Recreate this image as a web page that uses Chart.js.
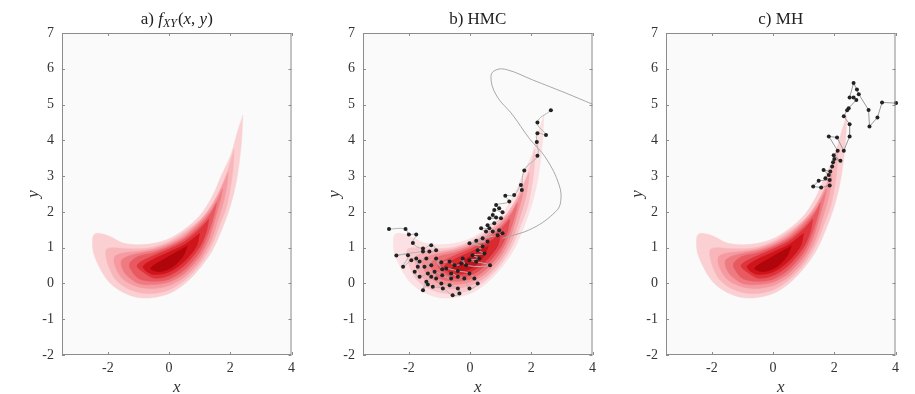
<!DOCTYPE html>
<html>
<head>
<meta charset="utf-8">
<script src="https://cdn.jsdelivr.net/npm/chart.js@4.4.0/dist/chart.umd.min.js"></script>
<style>
  html, body { margin: 0; padding: 0; background: #fff; }
  #wrap { position: relative; width: 915px; height: 394px; }
  canvas { position: absolute; top: 0; }
</style>
</head>
<body>
<div id="wrap">
  <canvas id="panelA" width="300" height="394" style="left:0px"></canvas>
  <canvas id="panelB" width="300" height="394" style="left:301px"></canvas>
  <canvas id="panelC" width="300" height="394" style="left:604px"></canvas>
</div>
<script>
const xTicks = [-2, 0, 2, 4];
const yTicks = [-2, -1, 0, 1, 2, 3, 4, 5, 6, 7];

// density contours, outermost first (tip -> upper edge -> left end -> lower edge)
const level1 = [[2.41,4.70],[2.22,4.20],[2.02,3.60],[1.70,3.00],[1.45,2.50],[1.10,2.00],[0.75,1.68],[0.40,1.45],[0.0,1.25],[-0.5,1.12],[-1.0,1.08],[-1.5,1.13],[-1.95,1.32],[-2.30,1.40],[-2.45,1.37],
  [-2.50,1.25],[-2.48,0.89],[-2.31,0.51],[-2.04,0.12],[-1.72,-0.14],[-1.2,-0.36],[-0.74,-0.41],[-0.30,-0.36],[0.13,-0.23],[0.55,0.02],[1.0,0.42],[1.4,0.9],[1.72,1.5],[1.96,2.05],[2.15,2.65],[2.28,3.30],[2.37,4.0]];
const level2 = [[2.12,3.75],[1.95,3.25],[1.75,2.80],[1.50,2.35],[1.20,1.95],[0.85,1.66],[0.45,1.41],[0.0,1.17],[-0.5,1.02],[-1.0,0.97],[-1.5,0.98],[-1.85,1.0],[-2.04,0.96],
  [-2.07,0.80],[-1.98,0.48],[-1.78,0.14],[-1.45,-0.10],[-1.0,-0.25],[-0.5,-0.28],[0.0,-0.18],[0.5,0.08],[1.0,0.52],[1.4,1.08],[1.65,1.62],[1.88,2.15],[2.03,2.80],[2.10,3.30]];
const level3 = [[1.93,3.10],[1.75,2.75],[1.55,2.40],[1.30,2.05],[0.95,1.70],[0.5,1.37],[0.0,1.12],[-0.5,0.97],[-1.0,0.90],[-1.5,0.85],[-1.77,0.76],
  [-1.80,0.60],[-1.68,0.32],[-1.45,0.08],[-1.0,-0.10],[-0.5,-0.14],[0.0,-0.06],[0.5,0.18],[1.0,0.63],[1.35,1.15],[1.58,1.72],[1.80,2.35],[1.90,2.80]];
const level4 = [[1.75,2.65],[1.55,2.30],[1.35,2.02],[1.0,1.68],[0.5,1.30],[0.0,1.07],[-0.5,0.92],[-1.0,0.84],[-1.35,0.76],[-1.55,0.65],
  [-1.56,0.50],[-1.42,0.26],[-1.0,0.0],[-0.5,-0.03],[0.0,0.04],[0.5,0.28],[1.0,0.75],[1.3,1.25],[1.50,1.80],[1.68,2.35]];
const level5 = [[1.55,2.25],[1.35,1.95],[1.0,1.60],[0.5,1.24],[0.0,1.02],[-0.5,0.86],[-1.0,0.76],[-1.28,0.58],
  [-1.28,0.44],[-1.0,0.14],[-0.5,0.06],[0.0,0.12],[0.5,0.38],[1.0,0.88],[1.28,1.40],[1.48,1.95]];
const level6 = [[1.30,1.80],[1.0,1.52],[0.5,1.17],[0.0,0.96],[-0.5,0.78],[-0.9,0.62],[-1.05,0.50],
  [-0.95,0.38],[-0.5,0.15],[0.0,0.22],[0.5,0.50],[1.0,1.02],[1.22,1.45]];
const level7 = [[1.0,1.40],[0.5,1.08],[0.0,0.88],[-0.5,0.68],[-0.85,0.48],
  [-0.75,0.35],[-0.5,0.25],[0.0,0.32],[0.5,0.62],[0.9,1.05]];
const level8 = [[0.6,1.05],[0.2,0.86],[-0.2,0.66],[-0.55,0.48],[-0.6,0.40],[-0.3,0.33],[0.1,0.45],[0.45,0.75]];
const levels = [level1, level2, level3, level4, level5, level6, level7, level8];
const levelColors = ['#fbd0d3', '#f8b6ba', '#f49aa0', '#ef7b82', '#e85960', '#df343c', '#cf141b', '#b0060b'];

// HMC samples in chain order
const hmcSamples = [[2.64,4.84],[2.20,4.50],[2.48,4.15],[2.20,4.20],[2.18,3.95],[2.20,3.57],[1.77,3.16],[1.69,2.61],[1.66,2.75],[1.44,2.47],
  [1.15,2.45],[1.28,2.29],[0.85,2.19],[0.95,2.10],[1.06,1.99],[0.79,2.05],[0.74,1.91],[0.85,1.84],[0.63,1.82],[1.01,1.82],
  [0.79,1.68],[0.57,1.63],[0.63,1.54],[0.36,1.54],[0.52,1.45],[0.74,1.45],[0.95,1.49],[1.06,1.40],[0.90,1.35],[0.41,1.26],
  [0.20,1.19],[0.57,1.17],[-0.02,1.12],[0.41,1.03],[0.25,0.93],[0.47,0.84],[0.08,0.79],[0.30,0.70],[-0.02,0.65],[0.20,0.61],
  [0.65,0.51],[-0.13,0.51],[-0.24,0.70],[-0.29,0.56],[-0.51,0.51],[-0.67,0.61],[-0.94,0.59],[-1.11,0.70],[-0.91,0.40],[-0.78,0.42],
  [-0.40,0.35],[-0.02,0.28],[0.14,0.14],[0.25,0.00],[-0.02,-0.14],[-0.19,0.14],[-0.40,0.19],[-0.62,0.28],[-0.62,0.14],[-0.91,0.23],
  [-1.16,0.33],[-1.11,0.14],[-0.94,0.00],[-0.67,-0.05],[-0.40,-0.14],[-0.35,-0.28],[-0.57,-0.33],[-0.89,-0.14],[-1.22,-0.09],[-1.38,-0.03],
  [-1.54,-0.19],[-1.43,0.05],[-1.27,0.19],[-1.38,0.28],[-1.65,0.19],[-1.81,0.33],[-1.49,0.47],[-1.27,0.51],[-1.43,0.70],[-1.65,0.61],
  [-1.71,0.47],[-1.76,0.70],[-1.92,0.65],[-2.19,0.47],[-2.03,0.79],[-2.41,0.78],[-1.54,0.89],[-1.33,0.89],[-1.11,0.93],[-1.27,1.07],
  [-1.54,0.98],[-1.87,1.13],[-1.76,1.37],[-2.00,1.37],[-2.11,1.52],[-2.65,1.52]];
// long leapfrog excursion that leaves the frame
const hmcExcursion = [[1.06,1.26],[2.04,1.54],[2.80,2.01],[2.96,2.29],[2.91,2.75],[2.48,3.50],[1.93,4.06],[1.39,4.71],[0.85,5.27],
  [0.68,5.79],[0.85,5.97],[1.22,5.97],[2.04,5.69],[3.13,5.32],[4.0,5.01],[4.4,4.87]];

// MH chain, starting at the right edge
const mhSamples = [[4.02,5.04],[3.56,5.06],[3.41,4.64],[3.15,4.39],[3.12,4.85],[2.80,5.29],[2.74,5.42],[2.63,5.60],[2.50,5.20],[2.63,5.20],
  [2.72,5.13],[2.47,4.90],[2.42,4.84],[2.31,4.67],[2.50,4.45],[2.50,4.11],[2.31,3.71],[2.09,4.08],[1.82,4.11],[2.11,3.71],
  [1.98,3.58],[2.20,3.43],[2.00,3.48],[1.96,3.39],[1.93,3.27],[1.87,3.13],[1.65,3.17],[1.82,3.03],[1.71,2.94],[1.85,2.89],
  [1.49,2.87],[1.31,2.71],[1.57,2.68],[1.85,2.74]];

const titleA = [['a) ', 'n'], ['f', 'i'], ['XY', 's'], ['(', 'n'], ['x', 'i'], [', ', 'n'], ['y', 'i'], [')', 'n']];
const titleB = [['b) HMC', 'n']];
const titleC = [['c) MH', 'n']];

const serif = '"Liberation Serif", "DejaVu Serif", serif';

function pts(list) {
    return list.map(p => ({ x: p[0], y: p[1] }));
}

function hexAlpha(hex, a) {
    const n = parseInt(hex.slice(1), 16);
    return 'rgba(' + (n >> 16) + ',' + ((n >> 8) & 255) + ',' + (n & 255) + ',' + a + ')';
}

function densitySets(alpha) {
    return levels.map((lv, i) => ({
        type: 'line',
        data: pts(lv.concat([lv[0]])),
        fill: 'shape',
        backgroundColor: hexAlpha(levelColors[i], alpha),
        borderColor: hexAlpha(levelColors[i], alpha),
        borderWidth: 0.5,
        pointRadius: 0,
        tension: 0.3,
        order: 30 - i
    }));
}

const framePlugin = {
    id: 'frame',
    beforeDraw(chart) {
        const { ctx, chartArea: a } = chart;
        ctx.save();
        ctx.fillStyle = '#fafafa';
        ctx.fillRect(a.left, a.top, a.width, a.height);
        ctx.restore();
    },
    afterDatasetsDraw(chart) {
        const { ctx, chartArea: a, scales } = chart;
        ctx.save();
        ctx.strokeStyle = '#8c8c8c';
        ctx.lineWidth = 1;
        ctx.strokeRect(a.left + 0.5, a.top + 0.5, a.width - 1, a.height - 1);
        ctx.beginPath();
        xTicks.forEach(v => {
            const px = Math.round(scales.x.getPixelForValue(v)) + 0.5;
            ctx.moveTo(px, a.bottom); ctx.lineTo(px, a.bottom - 3);
            ctx.moveTo(px, a.top); ctx.lineTo(px, a.top + 3);
        });
        yTicks.forEach(v => {
            const py = Math.round(scales.y.getPixelForValue(v)) + 0.5;
            ctx.moveTo(a.left, py); ctx.lineTo(a.left + 3, py);
            ctx.moveTo(a.right, py); ctx.lineTo(a.right - 3, py);
        });
        ctx.stroke();
        ctx.restore();
    }
};

const titlePlugin = {
    id: 'panelTitle',
    afterDraw(chart, args, opts) {
        const ctx = chart.ctx;
        const fontOf = kind => kind === 's' ? 'italic 12px ' + serif : (kind === 'i' ? 'italic 17px ' + serif : '17px ' + serif);
        ctx.save();
        ctx.fillStyle = '#222';
        ctx.textBaseline = 'alphabetic';
        let total = 0;
        const widths = opts.parts.map(p => {
            ctx.font = fontOf(p[1]);
            const w = ctx.measureText(p[0]).width + (p[1] === 's' ? 1 : 0);
            total += w;
            return w;
        });
        let x = (chart.chartArea.left + chart.chartArea.right) / 2 - total / 2;
        opts.parts.forEach((p, i) => {
            ctx.font = fontOf(p[1]);
            ctx.fillText(p[0], x, 24 + (p[1] === 's' ? 3 : 0));
            x += widths[i];
        });
        ctx.restore();
    }
};

function makePanel(id, title, extraSets, densityAlpha) {
    const tickFont = { family: serif, size: 14 };
    new Chart(document.getElementById(id), {
        type: 'line',
        data: { datasets: extraSets.concat(densitySets(densityAlpha)) },
        options: {
            responsive: false,
            animation: false,
            layout: { padding: { top: 33, right: 8, left: 0, bottom: 0 } },
            plugins: {
                legend: { display: false },
                tooltip: { enabled: false },
                panelTitle: { parts: title }
            },
            scales: {
                x: {
                    type: 'linear', min: -3.5, max: 4,
                    afterBuildTicks: s => { s.ticks = xTicks.map(v => ({ value: v })); },
                    afterFit: s => { s.height = 39; },
                    grid: { display: false, drawTicks: false }, border: { display: false },
                    ticks: { padding: 5, color: '#333', font: tickFont, maxRotation: 0 },
                    title: { display: true, text: 'x', color: '#333', padding: { top: 0, bottom: -2 },
                        font: { family: serif, size: 17, style: 'italic', lineHeight: 1 } }
                },
                y: {
                    type: 'linear', min: -2, max: 7,
                    afterBuildTicks: s => { s.ticks = yTicks.map(v => ({ value: v })); },
                    afterFit: s => { s.width = 62; },
                    grid: { display: false, drawTicks: false }, border: { display: false },
                    ticks: { padding: 8, color: '#333', font: tickFont, autoSkip: false },
                    title: { display: true, text: 'y', color: '#333', padding: { top: 25, bottom: 0 },
                        font: { family: serif, size: 17, style: 'italic', lineHeight: 1 } }
                }
            }
        },
        plugins: [framePlugin, titlePlugin]
    });
}

makePanel('panelA', titleA, [], 1);

makePanel('panelB', titleB, [
    {
        type: 'line', data: pts(hmcSamples), borderColor: '#b4b4b4', borderWidth: 1, tension: 0.45,
        pointRadius: 2, pointBackgroundColor: '#222', pointBorderWidth: 0, order: 0
    },
    {
        type: 'line', data: pts(hmcExcursion), borderColor: '#a8a8a8', borderWidth: 1, tension: 0.4,
        pointRadius: 0, order: 1
    }
], 0.6);

makePanel('panelC', titleC, [
    {
        type: 'line', data: pts(mhSamples), borderColor: '#9a9a9a', borderWidth: 1, tension: 0,
        pointRadius: 2, pointBackgroundColor: '#222', pointBorderWidth: 0, order: 0, clip: 5
    }
], 1);
</script>
</body>
</html>
